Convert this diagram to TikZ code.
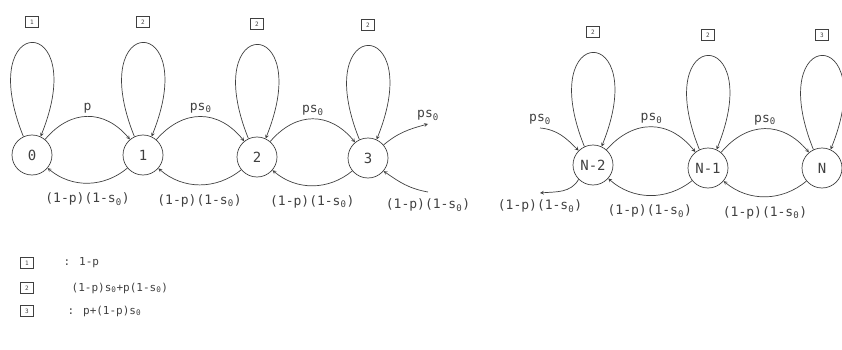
\documentclass[tikz,border=0pt]{standalone}
\usepackage{fontspec}
\usepackage{tikz}
\newfontfamily\plotfont{DejaVu Sans Mono}
\newcommand{\sz}{s\textsubscript{0}}

\tikzset{
  stnode/.style={circle, draw, minimum size=40pt, inner sep=0pt, font=\plotfont\fontsize{14}{16}\selectfont},
  elabel/.style={font=\plotfont\fontsize{13}{15}\selectfont},
  lgtext/.style={font=\plotfont\fontsize{11}{13}\selectfont, anchor=west},
  numbox/.style={draw, minimum width=13pt, minimum height=11pt, inner sep=0pt, font=\plotfont\fontsize{6}{7}\selectfont},
}

\begin{document}
\begin{tikzpicture}[>=stealth, x=1pt, y=1pt, line width=0.7pt, color=black!75]
  \useasboundingbox (0,0) rectangle (842,-350);

  % states of the chain
  \node[stnode] (s0) at (32,-155) {0};
  \node[stnode] (s1) at (143,-155) {1};
  \node[stnode] (s2) at (257,-157) {2};
  \node[stnode] (s3) at (368,-158) {3};
  \node[stnode] (sN2) at (593,-165) {N-2};
  \node[stnode] (sN1) at (708,-168) {N-1};
  \node[stnode] (sN) at (822,-168) {N};

  % self loops and their boxes
  \foreach \s/\k in {s0/1, s1/2, s2/2, s3/2, sN2/2, sN1/2, sN/3} {
    \draw[->] (\s.115) to[out=112, in=68, distance=135pt] (\s.65);
    \node[numbox] (b\s) at ([yshift=133pt]\s.center) {\k};
  }

  % forward and backward steps
  \foreach \a/\b/\t in {s0/s1/p, s1/s2/p\sz, s2/s3/p\sz, sN2/sN1/p\sz, sN1/sN/p\sz}
    \draw[->] (\a) to[bend left=50, looseness=1.2] node[elabel, above] {\t} (\b);
  \foreach \a/\b in {s0/s1, s1/s2, s2/s3, sN2/sN1, sN1/sN}
    \draw[->] (\b) to[bend left=40] node[elabel, below=6pt] {(1-p)(1-\sz)} (\a);

  % open ends at 3 and N-2
  \coordinate (o3) at (428,-124);
  \coordinate (i3) at (428,-192);
  \draw[->] (s3.40) to[out=40, in=195] (o3);
  \node[elabel, above] (la3) at (o3) {p\sz};
  \draw[->] (i3) to[out=170, in=-35] (s3.-40);
  \node[elabel, below=3pt] (lb3) at (i3) {(1-p)(1-\sz)};

  \coordinate (iN2) at (540,-128);
  \coordinate (oN2) at (540,-193);
  \draw[->] (iN2) to[out=-5, in=135] (sN2.135);
  \node[elabel, above] (la4) at (iN2) {p\sz};
  \draw[->] (sN2.-135) to[out=-120, in=5] (oN2);
  \node[elabel, below=3pt] (lb4) at (oN2) {(1-p)(1-\sz)};

  % legend
  \node[numbox] (k1) at (27,-263) {1};
  \node[lgtext] (t1) at (60,-263) {: 1-p};
  \node[numbox] (k2) at (27,-288) {2};
  \node[lgtext] (t2) at (68,-288) {(1-p)\sz+p(1-\sz)};
  \node[numbox] (k3) at (27,-311) {3};
  \node[lgtext] (t3) at (64,-311) {: p+(1-p)\sz};
\end{tikzpicture}
\end{document}
